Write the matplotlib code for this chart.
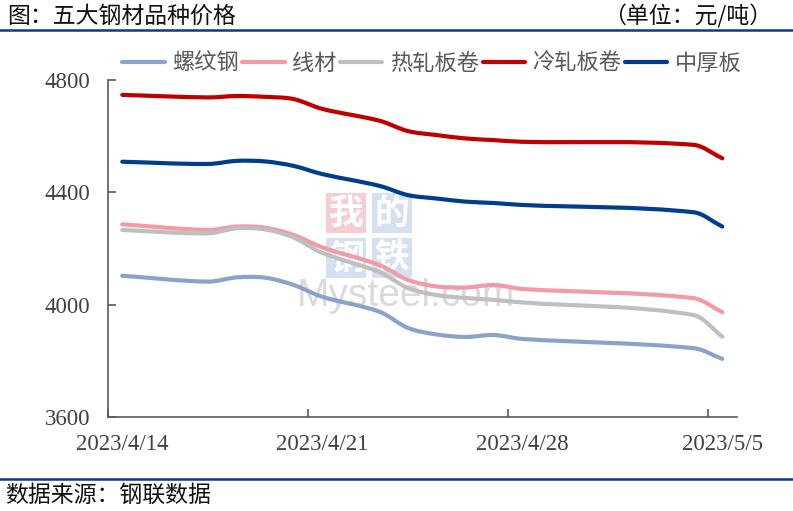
import matplotlib
matplotlib.use("Agg")
import numpy as np
import pandas as pd
import matplotlib.pyplot as plt
from matplotlib.path import Path
from matplotlib.patches import PathPatch
from matplotlib.lines import Line2D

plt.rcParams['font.family'] = ['Noto Sans CJK SC', 'DejaVu Sans']

# data (元/吨)
dates = ['2023-04-14', '2023-04-17', '2023-04-18', '2023-04-19', '2023-04-20',
         '2023-04-21', '2023-04-23', '2023-04-24', '2023-04-25', '2023-04-26',
         '2023-04-27', '2023-04-28', '2023-05-04', '2023-05-05']
rebar = [4103, 4082, 4097, 4096, 4070, 4028, 3975, 3917, 3894, 3885, 3892, 3878, 3845, 3807]
wire = [4286, 4266, 4278, 4274, 4248, 4204, 4141, 4088, 4065, 4061, 4070, 4056, 4023, 3973]
hot_coil = [4266, 4254, 4272, 4268, 4239, 4184, 4116, 4059, 4034, 4024, 4017, 4008, 3963, 3886]
cold_coil = [4747, 4738, 4743, 4740, 4732, 4697, 4655, 4618, 4604, 4592, 4586, 4580, 4569, 4521]
plate = [4509, 4501, 4512, 4510, 4494, 4465, 4423, 4390, 4378, 4367, 4362, 4355, 4329, 4278]

series_names = ['螺纹钢', '线材', '热轧板卷', '冷轧板卷', '中厚板']
series_colors = ['#8BA3CB', '#F29AA5', '#BFBFBF', '#C00000', '#003D8C']
tick_dates = ['2023/4/14', '2023/4/21', '2023/4/28', '2023/5/5']

d = pd.to_datetime(dates)
xs = np.array([(t - d[0]).days for t in d], dtype=float)
label_pos = [(pd.Timestamp(t) - d[0]).days for t in tick_dates]


def smooth_path(x, y):
    # cubic hermite curve through the points, like a smoothed excel line
    x = np.asarray(x, float)
    y = np.asarray(y, float)
    n = len(x)
    m = np.zeros(n)
    m[0] = (y[1] - y[0]) / (x[1] - x[0])
    m[-1] = (y[-1] - y[-2]) / (x[-1] - x[-2])
    for i in range(1, n - 1):
        m[i] = (y[i + 1] - y[i - 1]) / (x[i + 1] - x[i - 1])
    verts = [(x[0], y[0])]
    codes = [Path.MOVETO]
    for i in range(n - 1):
        h = (x[i + 1] - x[i]) / 3
        verts += [(x[i] + h, y[i] + m[i] * h),
                  (x[i + 1] - h, y[i + 1] - m[i + 1] * h),
                  (x[i + 1], y[i + 1])]
        codes += [Path.CURVE4] * 3
    return Path(verts, codes)


fig = plt.figure(figsize=(7.93, 5.11), dpi=100)
ax = fig.add_axes([108 / 793, 1 - 417 / 511, 628.6 / 793, 337 / 511])

for vals, col in zip([rebar, wire, hot_coil, cold_coil, plate], series_colors):
    patch = PathPatch(smooth_path(xs, vals), fill=False, edgecolor=col, lw=3.0,
                      capstyle='round', joinstyle='round', zorder=3)
    ax.add_patch(patch)

ax.set_xlim(-0.5, 21.5)
ax.set_ylim(3600, 4800)

axis_col = '#595959'
for s in ['top', 'right']:
    ax.spines[s].set_visible(False)
for s in ['left', 'bottom']:
    ax.spines[s].set_color(axis_col)
    ax.spines[s].set_linewidth(1.2)

ax.set_yticks([3600, 4000, 4400, 4800])
ax.tick_params(axis='y', direction='in', length=6, width=1.2, color=axis_col,
               pad=13, labelsize=16.5, labelcolor='#404040')
ax.set_xticks([p - 0.5 for p in label_pos])
ax.set_xticklabels([])
ax.set_xticks(label_pos, minor=True)
ax.set_xticklabels(tick_dates, minor=True)
ax.tick_params(axis='x', which='major', direction='in', length=6, width=1.2, color=axis_col)
ax.tick_params(axis='x', which='minor', length=0, pad=12, labelsize=16.5, labelcolor='#404040')
for lab in ax.get_yticklabels() + ax.get_xticklabels(minor=True):
    lab.set_fontfamily('Liberation Serif')

# watermark
wm = [('我', 0.379, 0.605, '#F6CDD3'), ('的', 0.452, 0.605, '#D5E1F0'),
      ('钢', 0.379, 0.472, '#D5E1F0'), ('铁', 0.452, 0.472, '#D5E1F0')]
for ch, fx, fy, bg in wm:
    ax.text(fx, fy, ch, transform=ax.transAxes, ha='center', va='center',
            fontsize=25, color='white', fontweight='bold', zorder=1,
            bbox=dict(boxstyle='square,pad=0.08', fc=bg, ec='none'))
ax.text(0.30, 0.36, 'Mysteel.com', transform=ax.transAxes, ha='left', va='center',
        fontsize=28, color='#DADADA', fontfamily='Liberation Sans', zorder=1)

handles = [Line2D([], [], color=c, lw=3.0, solid_capstyle='round') for c in series_colors]
fig.legend(handles, series_names, loc='center', bbox_to_anchor=(432 / 793, 1 - 63 / 511),
           ncol=5, frameon=False, handlelength=1.9, handletextpad=0.35, columnspacing=0.15,
           prop={'size': 16}, labelcolor='#595959')

# title, unit, rules and source
fig.text(7 / 793, 1 - 16 / 511, '图：五大钢材品种价格', ha='left', va='center', fontsize=16.5, color='#111111')
fig.text(772 / 793, 1 - 16 / 511, '（单位：元/吨）', ha='right', va='center', fontsize=16.5, color='#111111')
fig.add_artist(Line2D([0, 1], [1 - 30.5 / 511, 1 - 30.5 / 511], color='#0A3A84', lw=1.8))
fig.add_artist(Line2D([0, 1], [1 - 479 / 511, 1 - 479 / 511], color='#0A3A84', lw=1.8))
fig.text(5 / 793, 1 - 495 / 511, '数据来源：钢联数据', ha='left', va='center', fontsize=16.5, color='#111111')

fig.savefig('out.png', dpi=100)
